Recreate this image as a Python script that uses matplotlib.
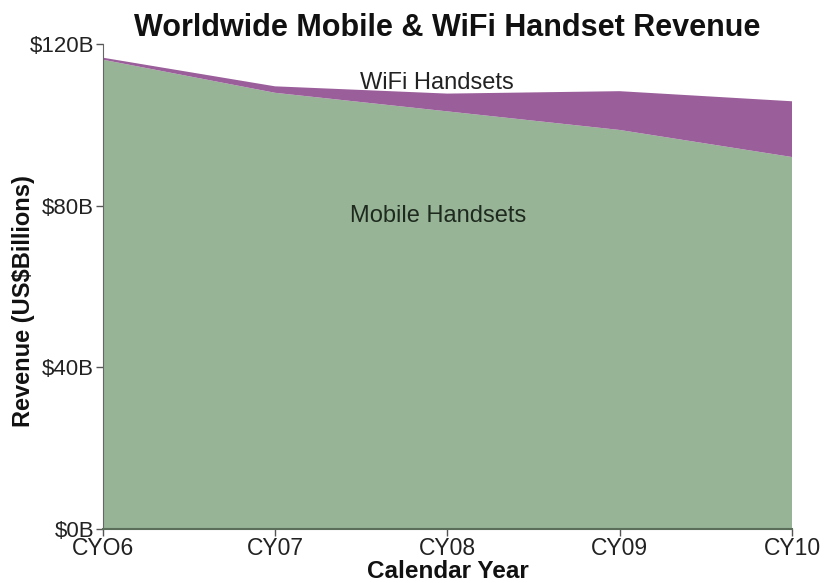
import numpy as np
import matplotlib.pyplot as plt

plt.rcParams['font.family'] = ['Liberation Sans', 'DejaVu Sans']

years = ['CYO6', 'CY07', 'CY08', 'CY09', 'CY10']
mobile = [116.1, 107.9, 103.3, 98.7, 92.0]
wifi = [0.5, 1.6, 4.4, 9.6, 13.8]

x = np.arange(len(years))

fig = plt.figure(figsize=(8.25, 5.83), dpi=100)
ax = fig.add_axes([0.1244, 0.0931, 0.8356, 0.8316])
ax.stackplot(x, mobile, wifi, colors=['#97b497', '#9a5e9a'], linewidth=0)

ax.set_xlim(0, 4)
ax.set_ylim(0, 120)
ax.set_xticks(x)
ax.set_xticklabels(years, fontsize=16.5, color='#222222')
ax.set_yticks([0, 40, 80, 120])
ax.set_yticklabels(['$0B', '$40B', '$80B', '$120B'], fontsize=16, color='#222222')
ax.tick_params(length=5, width=1, color='#555555', pad=1)
for s in ['top', 'right']:
    ax.spines[s].set_visible(False)
ax.spines['left'].set_color('#666666')
ax.spines['bottom'].set_color('#5a6e5a')
ax.spines['bottom'].set_linewidth(1.5)

ax.text(1.94, 110.3, 'WiFi Handsets', fontsize=17, ha='center', va='center', color='#222222')
ax.text(1.946, 77.5, 'Mobile Handsets', fontsize=17, ha='center', va='center', color='#1e2a1e')

fig.text(0.543, 0.019, 'Calendar Year', fontsize=17.5, fontweight='bold',
         ha='center', va='center', color='#111111')
fig.text(0.029, 0.4837, 'Revenue (US$Billions)', fontsize=17, fontweight='bold',
         ha='center', va='center', rotation=90, color='#111111')
fig.text(0.542, 0.952, 'Worldwide Mobile & WiFi Handset Revenue', fontsize=22,
         fontweight='bold', ha='center', va='center', color='#111111')

fig.savefig('out.png', dpi=100)
